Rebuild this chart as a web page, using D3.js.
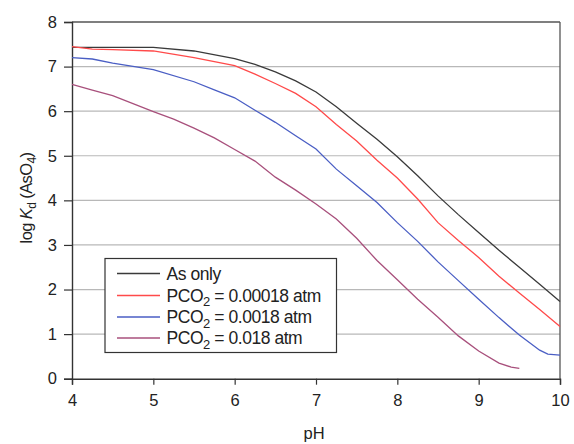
<!DOCTYPE html>
<html><head><meta charset="utf-8">
<script src="https://cdn.jsdelivr.net/npm/d3@7"></script>
<style>body{margin:0;background:#fff}svg{display:block;font-family:"Liberation Sans",Arial,sans-serif}</style>
</head><body><svg id="c" width="574" height="444"></svg>
<script>
const pHAsOnly = [4,4.5,5,5.5,6,6.25,6.5,6.75,7,7.25,7.5,7.75,8,8.25,8.5,8.75,9,9.25,9.5,9.75,10];
const kdAsOnly = [7.43,7.43,7.43,7.35,7.18,7.05,6.88,6.68,6.43,6.1,5.73,5.37,4.98,4.55,4.1,3.68,3.28,2.88,2.5,2.12,1.73];
const pH00018 = [4,4.25,4.5,5,5.5,6,6.25,6.5,6.75,7,7.25,7.5,7.75,8,8.25,8.5,8.75,9,9.25,9.5,9.75,10];
const kd00018 = [7.45,7.39,7.38,7.35,7.2,7.02,6.83,6.62,6.4,6.1,5.7,5.33,4.9,4.5,4.03,3.5,3.1,2.72,2.3,1.92,1.55,1.17];
const pH0018 = [4,4.25,4.5,5,5.5,5.75,6,6.25,6.5,6.75,7,7.25,7.5,7.75,8,8.25,8.5,8.75,9,9.25,9.5,9.75,9.85,10];
const kd0018 = [7.2,7.17,7.08,6.93,6.66,6.48,6.3,6.02,5.75,5.45,5.15,4.7,4.33,3.95,3.5,3.08,2.62,2.2,1.78,1.37,0.98,0.64,0.55,0.53];
const pH018 = [4,4.25,4.5,4.75,5,5.25,5.5,5.75,6,6.25,6.5,6.75,7,7.25,7.5,7.75,8,8.25,8.5,8.75,9,9.25,9.4,9.5];
const kd018 = [6.6,6.47,6.35,6.17,5.99,5.82,5.62,5.4,5.14,4.88,4.52,4.23,3.92,3.58,3.15,2.65,2.22,1.78,1.38,0.96,0.62,0.35,0.26,0.23];
const seriesNames = ["As only","0.00018","0.0018","0.018"];
const xTicks = [4,5,6,7,8,9,10];
const yTicks = [0,1,2,3,4,5,6,7,8];

const series = [
  {name:seriesNames[0], x:pHAsOnly, y:kdAsOnly, color:"#3a3a3a"},
  {name:seriesNames[1], x:pH00018, y:kd00018, color:"#ff4a4a"},
  {name:seriesNames[2], x:pH0018, y:kd0018, color:"#4a5ec4"},
  {name:seriesNames[3], x:pH018, y:kd018, color:"#a8507c"}
];

const svg = d3.select("#c");
const L=72, R=560, T=22, B=378.7;
const x = d3.scaleLinear().domain([4,10]).range([L,R]);
const y = d3.scaleLinear().domain([0,8]).range([B,T]);

// gridlines
svg.append("g").selectAll("line").data(yTicks.filter(d=>d>0&&d<8)).join("line")
  .attr("x1",L).attr("x2",R).attr("y1",d=>y(d)).attr("y2",d=>y(d))
  .attr("stroke","#b8b8b8").attr("stroke-width",1.2);

// frame top/right
svg.append("line").attr("x1",L).attr("x2",R).attr("y1",T).attr("y2",T).attr("stroke","#555").attr("stroke-width",1.3);
svg.append("line").attr("x1",R).attr("x2",R).attr("y1",T).attr("y2",B).attr("stroke","#555").attr("stroke-width",1.3);

// axes
const xAxis = svg.append("g").attr("transform",`translate(0,${B})`)
  .call(d3.axisBottom(x).tickValues(xTicks).tickSize(6).tickPadding(6).tickFormat(d3.format("d")));
const yAxis = svg.append("g").attr("transform",`translate(${L},0)`)
  .call(d3.axisLeft(y).tickValues(yTicks).tickSize(8).tickPadding(7).tickFormat(d3.format("d")));
[xAxis,yAxis].forEach(a=>{
  a.select(".domain").attr("stroke","#333").attr("stroke-width",1.4);
  a.selectAll(".tick line").attr("stroke","#333").attr("stroke-width",1.2);
  a.selectAll("text").attr("fill","#222").style("font-size","16.5px").style("font-family","Liberation Sans, Arial, sans-serif");
});
xAxis.selectAll("text").attr("dy","0.9em");

// lines
const line = d3.line().x(d=>x(d[0])).y(d=>y(d[1]));
series.forEach(s=>{
  svg.append("path").datum(s.x.map((v,i)=>[v,s.y[i]]))
    .attr("d",line).attr("fill","none").attr("stroke",s.color).attr("stroke-width",1.3);
});

// legend
const lg = svg.append("g");
lg.append("rect").attr("x",105).attr("y",258.5).attr("width",231.5).attr("height",94)
  .attr("fill","#fff").attr("stroke","#333").attr("stroke-width",1.2);
const rowY = [273.5,295.5,317,338];
series.forEach((s,i)=>{
  lg.append("line").attr("x1",117).attr("x2",160).attr("y1",rowY[i]).attr("y2",rowY[i])
    .attr("stroke",s.color).attr("stroke-width",1.3);
  const t = lg.append("text").attr("x",166.5).attr("y",rowY[i]+6).attr("fill","#222")
    .style("font-size","17.5px").style("letter-spacing","-0.45px");
  if(i===0){ t.text(s.name); }
  else {
    t.append("tspan").text("PCO");
    t.append("tspan").attr("dy",4.5).style("font-size","13px").text("2");
    t.append("tspan").attr("dy",-4.5).text(" = " + s.name + " atm");
  }
});

// axis titles
svg.append("text").attr("x",314).attr("y",439).attr("text-anchor","middle").attr("fill","#222")
  .style("font-size","16.5px").text("pH");
const yl = svg.append("text").attr("transform","translate(32,198) rotate(-90)").attr("text-anchor","middle")
  .attr("fill","#222").style("font-size","16.5px").style("letter-spacing","-0.6px");
yl.append("tspan").text("log ");
yl.append("tspan").style("font-style","italic").text("K");
yl.append("tspan").attr("dy",4).style("font-size","12px").text("d");
yl.append("tspan").attr("dy",-4).text(" (AsO");
yl.append("tspan").attr("dy",4).style("font-size","12px").text("4");
yl.append("tspan").attr("dy",-4).text(")");
</script></body></html>
